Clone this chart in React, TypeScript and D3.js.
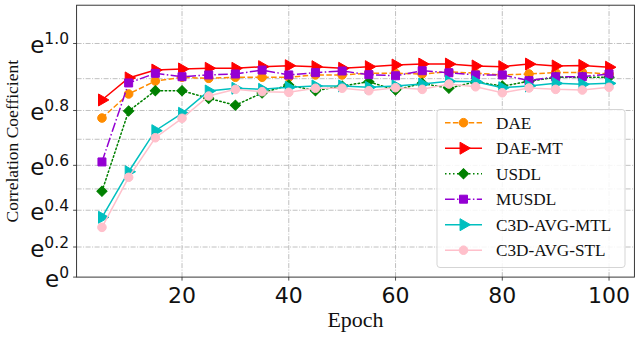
import React from 'react';
import * as d3 from 'd3';

const W = 641;
const H = 340;
const margin = {left: 76.6, right: 641 - 634.4, top: 5.2, bottom: 340 - 277.1};

const epochs = [5, 10, 15, 20, 25, 30, 35, 40, 45, 50, 55, 60, 65, 70, 75, 80, 85, 90, 95, 100];

const dae = [2.17, 2.347, 2.442, 2.47, 2.462, 2.47, 2.47, 2.47, 2.487, 2.487, 2.5, 2.5, 2.494, 2.51, 2.5, 2.487, 2.494, 2.504, 2.506, 2.494];
const daeMt = [2.303, 2.465, 2.523, 2.531, 2.536, 2.536, 2.548, 2.555, 2.548, 2.536, 2.548, 2.56, 2.567, 2.567, 2.553, 2.548, 2.567, 2.553, 2.557, 2.544];
const usdl = [1.631, 2.222, 2.371, 2.371, 2.315, 2.264, 2.354, 2.413, 2.371, 2.406, 2.437, 2.376, 2.425, 2.389, 2.437, 2.405, 2.44, 2.47, 2.47, 2.47];
const musdl = [1.847, 2.428, 2.499, 2.474, 2.487, 2.494, 2.523, 2.487, 2.504, 2.516, 2.489, 2.481, 2.518, 2.503, 2.487, 2.487, 2.445, 2.474, 2.474, 2.494];
const c3dMtl = [1.44, 1.775, 2.077, 2.205, 2.369, 2.389, 2.381, 2.396, 2.406, 2.406, 2.396, 2.406, 2.42, 2.44, 2.437, 2.393, 2.406, 2.425, 2.418, 2.425];
const c3dStl = [1.366, 1.734, 2.025, 2.168, 2.332, 2.381, 2.364, 2.359, 2.389, 2.389, 2.371, 2.393, 2.381, 2.42, 2.4, 2.356, 2.391, 2.381, 2.376, 2.396];

const xTicks = [20, 40, 60, 80, 100];
const yTickExps = ['0', '0.2', '0.4', '0.6', '0.8', '1.0'];
const yGridExps = [0.2, 0.4, 0.5, 0.6, 0.7, 0.8, 0.9, 1.0];

const series = [
  {name: 'DAE', values: dae, color: '#FF8C00', dash: '5.5,2.4', marker: 'circle'},
  {name: 'DAE-MT', values: daeMt, color: '#FF0000', dash: null, marker: 'tri'},
  {name: 'USDL', values: usdl, color: '#008000', dash: '1.5,2.5', marker: 'diamond'},
  {name: 'MUSDL', values: musdl, color: '#9400D3', dash: '9.6,2.4,1.5,2.4', marker: 'square'},
  {name: 'C3D-AVG-MTL', values: c3dMtl, color: '#00BFBF', dash: null, marker: 'tri'},
  {name: 'C3D-AVG-STL', values: c3dStl, color: '#FFC0CB', dash: null, marker: 'circle'},
];

const x = d3.scaleLinear().domain([0.25, 104.75]).range([margin.left, W - margin.right]);
const y = d3.scaleLinear().domain([1, 3]).range([H - margin.bottom, margin.top]);

const markerPath = (kind: string) => {
  if (kind === 'circle') return d3.symbol().type(d3.symbolCircle).size(58)()!;
  if (kind === 'square') return d3.symbol().type(d3.symbolSquare).size(64)()!;
  if (kind === 'diamond') return d3.symbol().type(d3.symbolSquare).size(52)()!;
  return d3.symbol().type(d3.symbolTriangle).size(62)()!;
};
const markerRot = (kind: string) => (kind === 'diamond' ? 45 : kind === 'tri' ? 90 : 0);

const Marker = ({kind, color, cx, cy}: any) => (
  <path d={markerPath(kind)} fill={color} stroke={color} strokeWidth={1}
    transform={`translate(${cx},${cy}) rotate(${markerRot(kind)})`} />
);

export default function App() {
  const line = d3.line<number>().x((_, i) => x(epochs[i])).y(d => y(d));
  const gridColor = '#b0b0b0';
  const gridDash = '5,1.5,1,1.5';
  const x0 = x.range()[0], x1 = x.range()[1];
  const y0 = y.range()[0], y1 = y.range()[1];

  const lgX = 437, lgY = 109.5, lgW = 188, lgH = 158;
  return (
    <svg width={W} height={H} style={{position: 'absolute', left: 0, top: 0, background: '#fff'}}>
      <rect width={W} height={H} fill="#fff" />
      {/* grid */}
      <g stroke={gridColor} strokeWidth={0.8} strokeDasharray={gridDash} fill="none">
        {yGridExps.map(e => (
          <line key={'gy' + e} x1={x0} x2={x1} y1={y(Math.exp(e))} y2={y(Math.exp(e))} />
        ))}
        {xTicks.map(t => (
          <line key={'gx' + t} x1={x(t)} x2={x(t)} y1={y0} y2={y1} />
        ))}
      </g>
      {/* series */}
      {series.map(s => (
        <g key={s.name}>
          <path d={line(s.values)!} fill="none" stroke={s.color} strokeWidth={1.5}
            strokeDasharray={s.dash || undefined} strokeLinecap={s.marker === 'diamond' ? 'round' : 'butt'} />
          {s.values.map((v, i) => (
            <Marker key={i} kind={s.marker} color={s.color} cx={x(epochs[i])} cy={y(v)} />
          ))}
        </g>
      ))}
      {/* frame */}
      <rect x={x0} y={y1} width={x1 - x0} height={y0 - y1} fill="none" stroke="#222" strokeWidth={0.9} />
      {/* x ticks */}
      {xTicks.map(t => (
        <g key={'xt' + t}>
          <line x1={x(t)} x2={x(t)} y1={y0} y2={y0 + 3.5} stroke="#222" strokeWidth={0.8} />
          <text x={x(t)} y={303} textAnchor="middle" fontFamily="DejaVu Sans" fontSize={22} fill="#111">{t}</text>
        </g>
      ))}
      {/* y ticks */}
      {yTickExps.map(e => {
        const ty = y(Math.exp(+e));
        return (
          <g key={'yt' + e}>
            <line x1={x0 - 3.5} x2={x0} y1={ty} y2={ty} stroke="#222" strokeWidth={0.8} />
            <text x={69} y={ty + 9.5} textAnchor="end" fontFamily="DejaVu Sans" fill="#111">
              <tspan fontSize={23}>e</tspan>
              <tspan fontSize={15.5} dy={-9}>{e}</tspan>
            </text>
          </g>
        );
      })}
      {/* axis labels */}
      <text x={(x0 + x1) / 2} y={327} textAnchor="middle" fontFamily="Liberation Serif" fontSize={22} fill="#111">Epoch</text>
      <text transform={`translate(18,${(y0 + y1) / 2}) rotate(-90)`} textAnchor="middle" fontFamily="Liberation Serif" fontSize={17.5} fill="#111">Correlation Coefficient</text>
      {/* legend */}
      <rect x={lgX} y={lgY} width={lgW} height={lgH} rx={3} fill="#fff" fillOpacity={0.85} stroke="#d0d0d0" strokeWidth={0.9} />
      {series.map((s, i) => {
        const ly = 122.7 + i * 25.5;
        return (
          <g key={'lg' + s.name}>
            <line x1={445} x2={482} y1={ly} y2={ly} stroke={s.color} strokeWidth={1.5}
              strokeDasharray={s.dash || undefined} />
            <Marker kind={s.marker} color={s.color} cx={463.5} cy={ly} />
            <text x={496} y={ly + 6} fontFamily="Liberation Serif" fontSize={17.2} fill="#111">{s.name}</text>
          </g>
        );
      })}
    </svg>
  );
}
